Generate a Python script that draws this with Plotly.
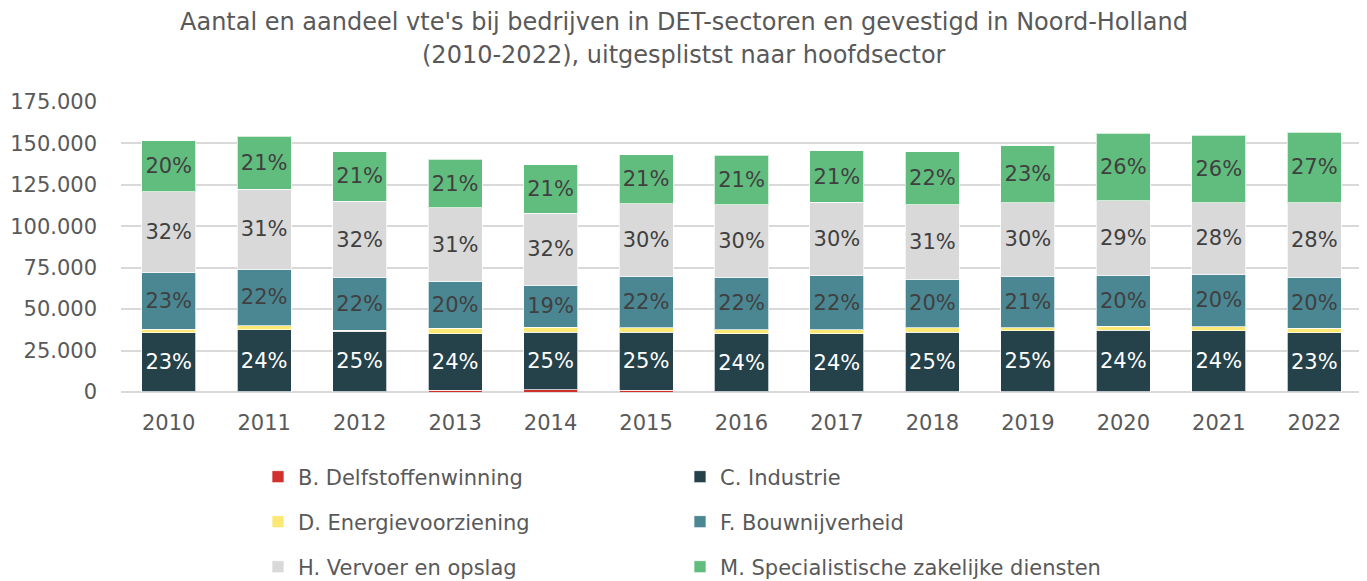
import plotly.graph_objects as go

years = ["2010", "2011", "2012", "2013", "2014", "2015", "2016", "2017", "2018", "2019", "2020", "2021", "2022"]

delfstoffen = [200, 200, 200, 1200, 1300, 1200, 300, 200, 200, 200, 200, 200, 200]
industrie = [35700, 37500, 36500, 33900, 34800, 34900, 34800, 34900, 35900, 36900, 37100, 36700, 35700]
energie = [2000, 2200, 600, 3400, 3000, 2800, 2600, 2400, 2800, 1800, 2400, 2600, 2600]
bouw = [34100, 34300, 31600, 28400, 25400, 31100, 31500, 32600, 29200, 30900, 30900, 31700, 30800]
vervoer = [48700, 48300, 46200, 44200, 43500, 43500, 43900, 44400, 44800, 44500, 44700, 43100, 45000]
zakelijk = [30900, 31700, 30000, 29400, 29100, 29600, 29800, 31000, 32200, 34300, 40700, 40700, 42500]

pct_industrie = [23, 24, 25, 24, 25, 25, 24, 24, 25, 25, 24, 24, 23]
pct_bouw = [23, 22, 22, 20, 19, 22, 22, 22, 20, 21, 20, 20, 20]
pct_vervoer = [32, 31, 32, 31, 32, 30, 30, 30, 31, 30, 29, 28, 28]
pct_zakelijk = [20, 21, 21, 21, 21, 21, 21, 21, 22, 23, 26, 26, 27]

y_ticks = [0, 25000, 50000, 75000, 100000, 125000, 150000, 175000]

title_lines = [
    "Aantal en aandeel vte's bij bedrijven in DET-sectoren en gevestigd in Noord-Holland",
    "(2010-2022), uitgesplistst naar hoofdsector",
]

FONT = "DejaVu Sans"
GREY = "#595959"

series = [
    ("B. Delfstoffenwinning", delfstoffen, "#D0312D", None, None, "legend"),
    ("C. Industrie", industrie, "#25424A", pct_industrie, "#FFFFFF", "legend"),
    ("D. Energievoorziening", energie, "#FCE874", None, None, "legend2"),
    ("F. Bouwnijverheid", bouw, "#4A8793", pct_bouw, "#404040", "legend2"),
    ("H. Vervoer en opslag", vervoer, "#D9D9D9", pct_vervoer, "#404040", "legend3"),
    ("M. Specialistische zakelijke diensten", zakelijk, "#61BD7E", pct_zakelijk, "#404040", "legend3"),
]

fig = go.Figure()
for name, vals, color, pct, tcol, leg in series:
    if pct is not None:
        kw = dict(
            text=[f"{p}%" for p in pct],
            textposition="inside",
            insidetextanchor="middle",
            textangle=0,
            insidetextfont=dict(family=FONT, size=21, color=tcol),
        )
    else:
        kw = dict(textposition="none")
    fig.add_trace(go.Bar(
        name=name, x=years, y=vals,
        marker=dict(color=color, line=dict(color="rgba(255,255,255,0.7)", width=1)),
        legend=leg,
        **kw,
    ))

leg_common = dict(
    orientation="h", xanchor="left", yanchor="middle",
    x=0.1104, xref="paper", yref="container",
    entrywidth=377, entrywidthmode="pixels",
    font=dict(family=FONT, size=21, color=GREY),
    bgcolor="rgba(0,0,0,0)", itemwidth=30, traceorder="normal",
)

fig.update_layout(
    width=1359, height=573,
    barmode="stack", bargap=0.434,
    separators=",.",
    plot_bgcolor="white", paper_bgcolor="white",
    margin=dict(l=113, r=5, t=94, b=189, autoexpand=False),
    xaxis=dict(
        showgrid=False, showline=False, ticks="", ticklabelstandoff=16,
        tickfont=dict(family=FONT, size=21, color=GREY),
    ),
    yaxis=dict(
        range=[0, 175000], tickvals=y_ticks, tickformat=",d",
        showgrid=True, gridcolor="#D9D9D9", gridwidth=2,
        zeroline=True, zerolinecolor="#D9D9D9", zerolinewidth=2,
        showline=False, ticks="", ticklabelstandoff=23,
        tickfont=dict(family=FONT, size=21, color=GREY),
    ),
    legend=dict(y=0.1815, **leg_common),
    legend2=dict(y=0.103, **leg_common),
    legend3=dict(y=0.0244, **leg_common),
    showlegend=True,
    annotations=[
        dict(text=title_lines[0], xref="paper", yref="paper", x=0.4537, y=1.276,
             xanchor="center", yanchor="middle", showarrow=False,
             font=dict(family=FONT, size=24, color=GREY)),
        dict(text=title_lines[1], xref="paper", yref="paper", x=0.4537, y=1.162,
             xanchor="center", yanchor="middle", showarrow=False,
             font=dict(family=FONT, size=24, color=GREY)),
    ],
)

fig.write_html("out.html")
